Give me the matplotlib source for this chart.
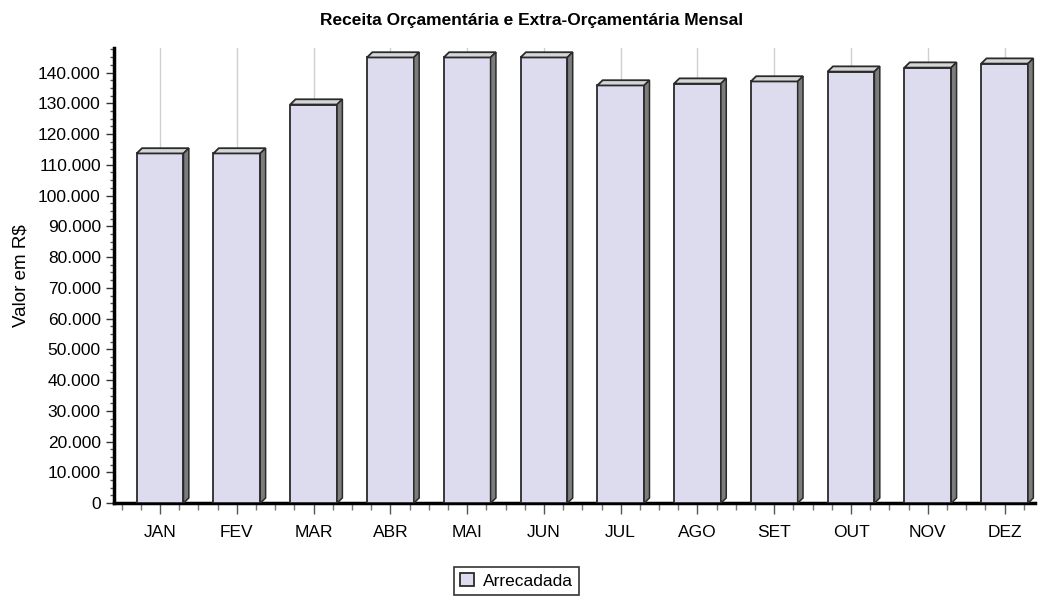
import numpy as np
import matplotlib
matplotlib.use("Agg")
import matplotlib.pyplot as plt
from matplotlib.patches import Polygon, Patch
from matplotlib.ticker import FuncFormatter, MultipleLocator, AutoMinorLocator

# --- Data ---
months = ["JAN", "FEV", "MAR", "ABR", "MAI", "JUN", "JUL", "AGO", "SET", "OUT", "NOV", "DEZ"]
arrecadada = [113700, 113700, 129600, 144900, 144900, 144900,
              135800, 136400, 137100, 140300, 141600, 142900]

# --- Style ---
FRONT = "#dcdcee"
TOP = "#d6d6d6"
SIDE = "#7c7c7c"
EDGE = "#2a2a2a"
BAR_W = 0.61
DX = 0.07       # depth offset in x (category units)
DY = 1700       # depth offset in y (value units)

plt.rcParams["font.family"] = ["Liberation Sans", "DejaVu Sans"]

fig = plt.figure(figsize=(10.41, 5.99), dpi=100)
ax = fig.add_axes([0.1095, 0.160, 0.885, 0.760])

x = np.arange(len(months))

# front faces
ax.bar(x, arrecadada, width=BAR_W, color=FRONT, edgecolor=EDGE, linewidth=1.3, zorder=3)

# top and side faces for the 3D look
for xi, v in zip(x, arrecadada):
    x0, x1 = xi - BAR_W / 2, xi + BAR_W / 2
    top = Polygon([(x0, v), (x1, v), (x1 + DX, v + DY), (x0 + DX, v + DY)],
                  closed=True, facecolor=TOP, edgecolor=EDGE, linewidth=1.3, zorder=4)
    side = Polygon([(x1, 0), (x1 + DX, DY), (x1 + DX, v + DY), (x1, v)],
                   closed=True, facecolor=SIDE, edgecolor=EDGE, linewidth=1.1, zorder=4)
    ax.add_patch(top)
    ax.add_patch(side)

# --- Axes ---
ax.set_xlim(-0.6, 11.4)
ax.set_ylim(0, 148000)

ax.set_xticks(x)
ax.set_xticklabels(months, fontsize=12.5)
ax.xaxis.set_minor_locator(MultipleLocator(0.25))
ax.yaxis.set_major_locator(MultipleLocator(10000))
ax.yaxis.set_minor_locator(AutoMinorLocator(4))
ax.yaxis.set_major_formatter(FuncFormatter(lambda v, p: f"{int(v):,}".replace(",", ".")))
ax.tick_params(axis="y", labelsize=12.5, length=6, width=1, colors="#333333", labelcolor="black")
ax.tick_params(axis="y", which="minor", length=3, width=1, colors="#555555")
ax.tick_params(axis="x", length=8, width=1, colors="#555555", labelcolor="black", pad=8)
ax.tick_params(axis="x", which="minor", length=5, width=1, colors="#777777")

ax.grid(axis="x", which="major", color="#d0d0d0", linewidth=1, zorder=0)
ax.set_axisbelow(True)

for s in ["top", "right"]:
    ax.spines[s].set_visible(False)
for s in ["left", "bottom"]:
    ax.spines[s].set_linewidth(2.5)
    ax.spines[s].set_color("black")

ax.set_ylabel("Valor em R$", fontsize=13.5, labelpad=6)
fig.suptitle("Receita Orçamentária e Extra-Orçamentária Mensal", fontsize=12.5,
             fontweight="bold", x=0.511, y=0.978)

leg_handle = Patch(facecolor=FRONT, edgecolor=EDGE, linewidth=1.3)
leg = fig.legend([leg_handle], ["Arrecadada"], loc="center", bbox_to_anchor=(0.496, 0.030),
                 fontsize=12.5, frameon=True, fancybox=False, handlelength=0.8,
                 handleheight=0.8, handletextpad=0.5, borderpad=0.35)
leg.get_frame().set_edgecolor("black")
leg.get_frame().set_linewidth(1.2)

fig.savefig("out.png", dpi=100)
